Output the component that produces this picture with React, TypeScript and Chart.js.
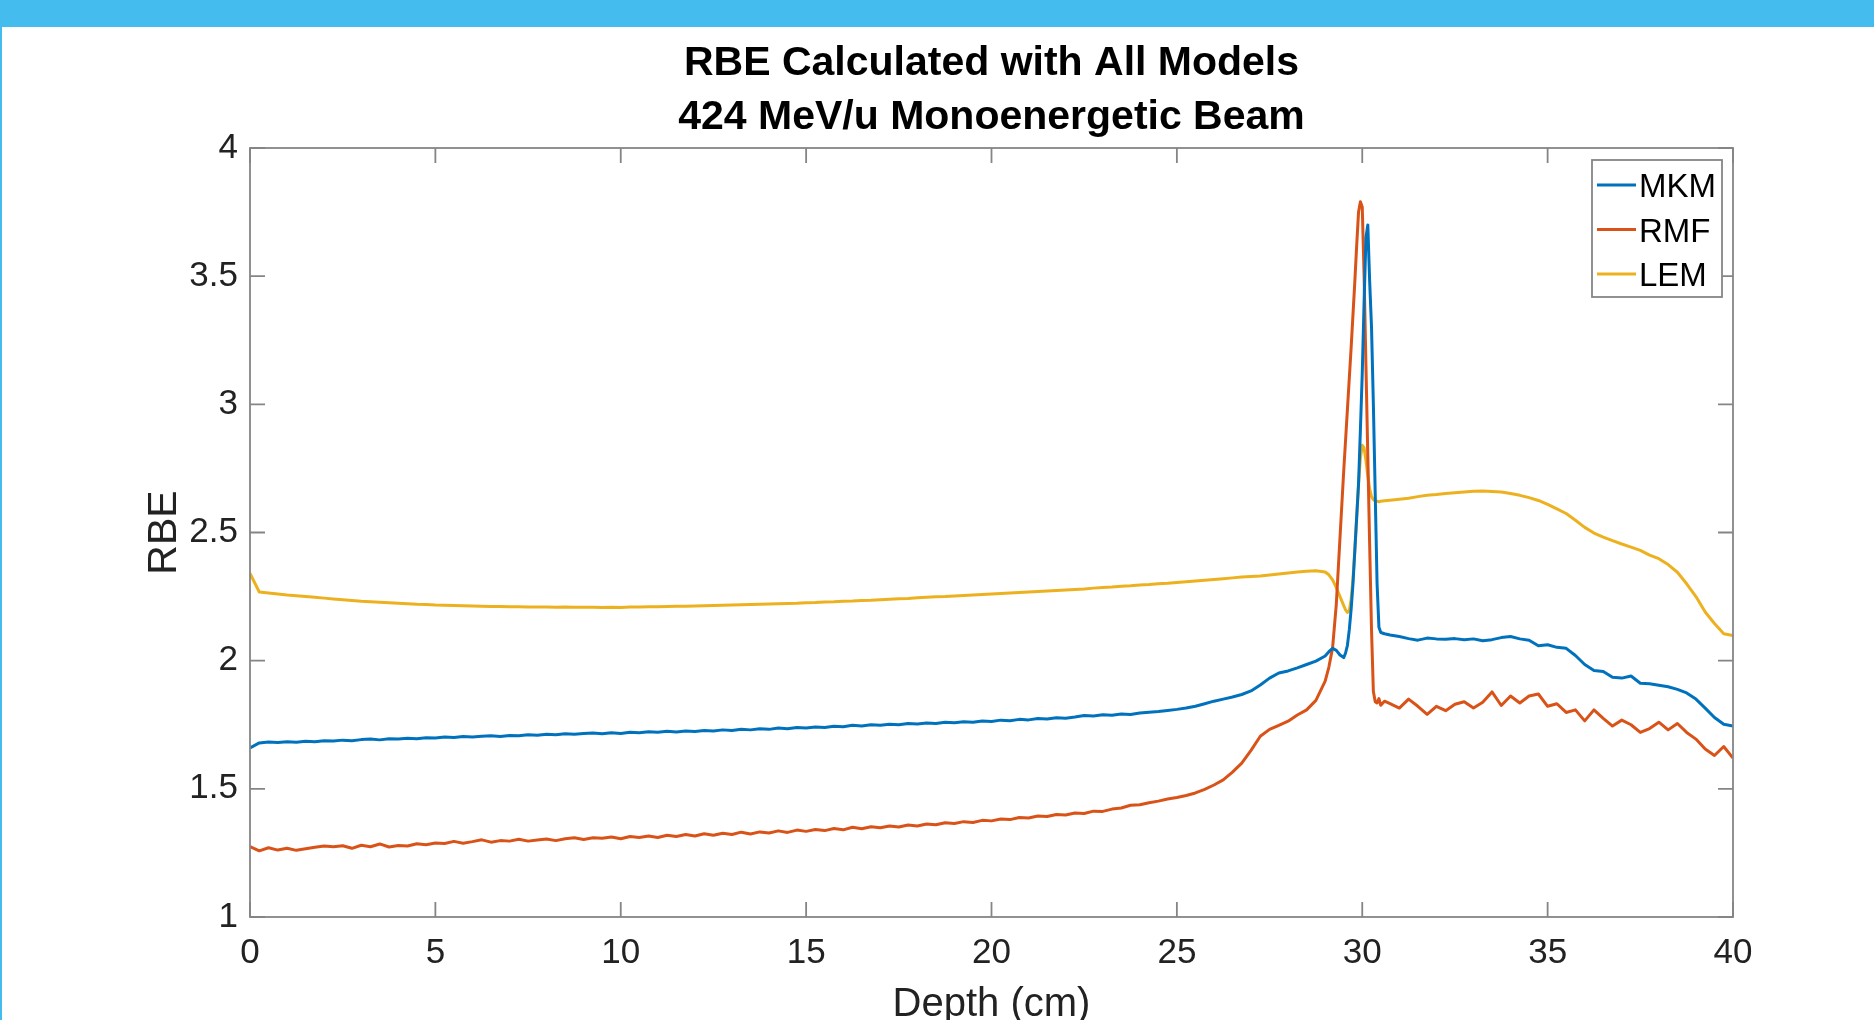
import React, { useEffect, useRef } from "react";
import { Chart, registerables } from "chart.js";

Chart.register(...registerables);

// ---------- data (depth in cm, RBE) ----------
const depthA = [
  0, 0.25, 0.5, 0.75, 1, 1.25, 1.5, 1.75, 2, 2.25, 2.5, 2.75, 3, 3.25, 3.5, 3.75, 4, 4.25, 4.5, 4.75,
  5, 5.25, 5.5, 5.75, 6, 6.25, 6.5, 6.75, 7, 7.25, 7.5, 7.75, 8, 8.25, 8.5, 8.75, 9, 9.25, 9.5, 9.75,
  10, 10.25, 10.5, 10.75, 11, 11.25, 11.5, 11.75, 12, 12.25, 12.5, 12.75, 13, 13.25, 13.5, 13.75, 14, 14.25, 14.5, 14.75,
  15, 15.25, 15.5, 15.75, 16, 16.25, 16.5, 16.75, 17, 17.25, 17.5, 17.75, 18, 18.25, 18.5, 18.75, 19, 19.25, 19.5, 19.75,
  20, 20.25, 20.5, 20.75, 21, 21.25, 21.5, 21.75, 22, 22.25, 22.5, 22.75, 23, 23.25, 23.5, 23.75, 24, 24.25, 24.5, 24.75,
  25, 25.25, 25.5, 25.75, 26, 26.25, 26.5, 26.75, 27, 27.25, 27.5, 27.75, 28, 28.25, 28.5, 28.75, 29,
];
const depthB = [
  29.1, 29.2, 29.3, 29.4, 29.5, 29.55, 29.6, 29.65, 29.7, 29.75, 29.8, 29.85, 29.9, 29.95, 30, 30.05,
  30.1, 30.15, 30.2, 30.25, 30.3, 30.35, 30.4, 30.45, 30.5, 30.6,
];
const depthC = [
  30.75, 31, 31.25, 31.5, 31.75, 32, 32.25, 32.5, 32.75, 33, 33.25, 33.5, 33.75, 34, 34.25, 34.5, 34.75,
  35, 35.25, 35.5, 35.75, 36, 36.25, 36.5, 36.75, 37, 37.25, 37.5, 37.75, 38, 38.25, 38.5, 38.75, 39, 39.25, 39.5, 39.75, 40,
];

const mkmA = [
  1.660, 1.679, 1.683, 1.681, 1.684, 1.682, 1.686, 1.684, 1.688, 1.687, 1.690, 1.688, 1.692, 1.694, 1.691, 1.695, 1.694, 1.697, 1.695, 1.699,
  1.698, 1.702, 1.700, 1.704, 1.702, 1.705, 1.707, 1.704, 1.708, 1.707, 1.711, 1.709, 1.713, 1.711, 1.715, 1.713, 1.716, 1.718, 1.715, 1.719,
  1.716, 1.721, 1.719, 1.723, 1.721, 1.725, 1.722, 1.726, 1.724, 1.728, 1.726, 1.730, 1.728, 1.732, 1.730, 1.734, 1.732, 1.737, 1.734, 1.739,
  1.737, 1.741, 1.739, 1.744, 1.742, 1.748, 1.745, 1.750, 1.748, 1.752, 1.750, 1.755, 1.753, 1.757, 1.755, 1.760, 1.758, 1.762, 1.760, 1.765,
  1.763, 1.768, 1.766, 1.771, 1.769, 1.774, 1.772, 1.777, 1.775, 1.780, 1.786, 1.784, 1.789, 1.787, 1.792, 1.790, 1.796, 1.799, 1.802, 1.806,
  1.810, 1.815, 1.822, 1.832, 1.842, 1.850, 1.858, 1.868, 1.882, 1.905, 1.932, 1.952, 1.960, 1.972, 1.985, 1.998, 2.018,
];
const mkmB = [
  2.035, 2.048, 2.040, 2.022, 2.012, 2.030, 2.060, 2.120, 2.200, 2.300, 2.430, 2.560, 2.690, 2.900, 3.120, 3.400,
  3.650, 3.700, 3.480, 3.300, 3.000, 2.650, 2.300, 2.130, 2.110, 2.105,
];
const mkmC = [
  2.100, 2.094, 2.086, 2.080, 2.088, 2.085, 2.084, 2.086, 2.082, 2.085, 2.078, 2.082, 2.090, 2.094, 2.085, 2.080, 2.058,
  2.062, 2.052, 2.048, 2.020, 1.985, 1.962, 1.958, 1.935, 1.932, 1.940, 1.912, 1.910, 1.904, 1.898, 1.888, 1.874, 1.850, 1.815, 1.778, 1.752, 1.745,
];

const rmfA = [
  1.275, 1.258, 1.270, 1.261, 1.268, 1.260, 1.266, 1.272, 1.277, 1.274, 1.278, 1.268, 1.280, 1.274, 1.285, 1.273, 1.279, 1.277, 1.286, 1.282,
  1.289, 1.287, 1.295, 1.288, 1.294, 1.301, 1.292, 1.298, 1.296, 1.303, 1.296, 1.300, 1.304, 1.298, 1.305, 1.309, 1.302, 1.309, 1.307, 1.312,
  1.305, 1.314, 1.310, 1.316, 1.310, 1.319, 1.314, 1.322, 1.316, 1.325, 1.319, 1.327, 1.322, 1.331, 1.324, 1.332, 1.328, 1.336, 1.330, 1.339,
  1.334, 1.341, 1.337, 1.345, 1.340, 1.350, 1.344, 1.352, 1.348, 1.355, 1.351, 1.359, 1.355, 1.363, 1.360, 1.368, 1.365, 1.372, 1.369, 1.377,
  1.375, 1.382, 1.380, 1.388, 1.386, 1.394, 1.392, 1.400, 1.398, 1.406, 1.404, 1.413, 1.412, 1.421, 1.425, 1.436, 1.438, 1.446, 1.452, 1.460,
  1.466, 1.474, 1.484, 1.498, 1.515, 1.535, 1.565, 1.600, 1.650, 1.705, 1.732, 1.748, 1.764, 1.788, 1.808, 1.845, 1.920,
];
const rmfB = [
  1.975, 2.050, 2.220, 2.480, 2.740, 2.860, 2.980, 3.100, 3.220, 3.350, 3.480, 3.620, 3.750, 3.790, 3.770, 3.500,
  3.150, 2.800, 2.450, 2.120, 1.880, 1.840, 1.835, 1.852, 1.826, 1.842,
];
const rmfC = [
  1.832, 1.815, 1.850, 1.822, 1.790, 1.822, 1.805, 1.830, 1.840, 1.815, 1.838, 1.878, 1.825, 1.862, 1.835, 1.862, 1.870,
  1.822, 1.832, 1.798, 1.808, 1.765, 1.808, 1.775, 1.745, 1.768, 1.750, 1.720, 1.735, 1.760, 1.730, 1.755, 1.720, 1.694, 1.655, 1.630, 1.665, 1.620,
];

const lemA = [
  2.340, 2.268, 2.264, 2.260, 2.256, 2.253, 2.250, 2.247, 2.244, 2.241, 2.238, 2.235, 2.232, 2.230, 2.228, 2.226, 2.224, 2.222, 2.220, 2.219,
  2.217, 2.216, 2.215, 2.214, 2.213, 2.212, 2.211, 2.211, 2.210, 2.210, 2.209, 2.209, 2.209, 2.208, 2.209, 2.208, 2.208, 2.208, 2.207, 2.208,
  2.207, 2.209, 2.209, 2.210, 2.210, 2.211, 2.212, 2.212, 2.213, 2.214, 2.215, 2.216, 2.217, 2.218, 2.219, 2.220, 2.221, 2.222, 2.223, 2.224,
  2.226, 2.227, 2.229, 2.230, 2.232, 2.233, 2.235, 2.236, 2.238, 2.240, 2.242, 2.243, 2.245, 2.247, 2.249, 2.250, 2.252, 2.254, 2.256, 2.258,
  2.260, 2.262, 2.264, 2.266, 2.268, 2.270, 2.272, 2.274, 2.276, 2.278, 2.280, 2.283, 2.285, 2.287, 2.290, 2.292, 2.295, 2.297, 2.300, 2.302,
  2.305, 2.308, 2.311, 2.314, 2.317, 2.320, 2.323, 2.326, 2.328, 2.330, 2.334, 2.338, 2.342, 2.346, 2.349, 2.351, 2.346,
];
const lemB = [
  2.335, 2.315, 2.285, 2.250, 2.215, 2.198, 2.188, 2.195, 2.240, 2.320, 2.430, 2.560, 2.690, 2.790, 2.840, 2.830,
  2.780, 2.720, 2.670, 2.640, 2.628, 2.624, 2.622, 2.620, 2.622, 2.624,
];
const lemC = [
  2.626, 2.630, 2.634, 2.640, 2.645, 2.648, 2.652, 2.655, 2.658, 2.661, 2.662, 2.660, 2.658, 2.652, 2.645, 2.636, 2.625,
  2.610, 2.592, 2.574, 2.548, 2.520, 2.498, 2.482, 2.468, 2.455, 2.443, 2.430, 2.412, 2.398, 2.375, 2.345, 2.300, 2.250, 2.190, 2.145, 2.105, 2.098,
];

const seriesNames = ["MKM", "RMF", "LEM"];
const seriesColors = ["#0072BD", "#D95319", "#EDB120"];

const xTickValues = [0, 5, 10, 15, 20, 25, 30, 35, 40];
const xTickLabels = ["0", "5", "10", "15", "20", "25", "30", "35", "40"];
const yTickValues = [1, 1.5, 2, 2.5, 3, 3.5, 4];
const yTickLabels = ["1", "1.5", "2", "2.5", "3", "3.5", "4"];

const titleLines = ["RBE Calculated with All Models", "424 MeV/u Monoenergetic Beam"];
const xAxisTitle = "Depth (cm)";
const yAxisTitle = "RBE";

// ---------- styling ----------
const FONT = "'Liberation Sans', Arial, Helvetica, sans-serif";
const W = 1874;
const H = 1020;
const AXIS_COLOR = "#858585";
const TEXT_COLOR = "#222222";
const TICK_LEN = 15;

function toPoints(xs: number[], ys: number[]) {
  return xs.map((x, i) => ({ x, y: ys[i] }));
}

const decorPlugin = {
  id: "decor",
  afterDraw(chart: any) {
    const { ctx, chartArea: a, scales } = chart;
    const xs = scales.x;
    const ys = scales.y;
    ctx.save();

    // axes box and inward ticks (box on)
    ctx.strokeStyle = AXIS_COLOR;
    ctx.lineWidth = 1.8;
    ctx.strokeRect(a.left, a.top, a.right - a.left, a.bottom - a.top);
    ctx.beginPath();
    for (const v of xTickValues) {
      const px = xs.getPixelForValue(v);
      ctx.moveTo(px, a.bottom);
      ctx.lineTo(px, a.bottom - TICK_LEN);
      ctx.moveTo(px, a.top);
      ctx.lineTo(px, a.top + TICK_LEN);
    }
    for (const v of yTickValues) {
      const py = ys.getPixelForValue(v);
      ctx.moveTo(a.left, py);
      ctx.lineTo(a.left + TICK_LEN, py);
      ctx.moveTo(a.right, py);
      ctx.lineTo(a.right - TICK_LEN, py);
    }
    ctx.stroke();

    // title
    const cx = (a.left + a.right) / 2;
    ctx.fillStyle = "#000";
    ctx.textAlign = "center";
    ctx.textBaseline = "alphabetic";
    ctx.font = `bold 41px ${FONT}`;
    ctx.fillText(titleLines[0], cx, 75);
    ctx.fillText(titleLines[1], cx, 129);

    // axis titles
    ctx.fillStyle = TEXT_COLOR;
    ctx.font = `40px ${FONT}`;
    ctx.fillText(xAxisTitle, cx, 1016);
    ctx.save();
    ctx.translate(176, (a.top + a.bottom) / 2);
    ctx.rotate(-Math.PI / 2);
    ctx.font = `41px ${FONT}`;
    ctx.fillText(yAxisTitle, 0, 0);
    ctx.restore();

    // legend (inside, north-east)
    const lx = 1592, ly = 160, lw = 130, lh = 137;
    ctx.fillStyle = "#fff";
    ctx.fillRect(lx, ly, lw, lh);
    ctx.strokeStyle = AXIS_COLOR;
    ctx.lineWidth = 1.8;
    ctx.strokeRect(lx, ly, lw, lh);
    ctx.font = `33px ${FONT}`;
    ctx.textAlign = "left";
    const rowsY = [185, 229.5, 274];
    seriesNames.forEach((name, i) => {
      ctx.strokeStyle = seriesColors[i];
      ctx.lineWidth = 3;
      ctx.beginPath();
      ctx.moveTo(lx + 5, rowsY[i]);
      ctx.lineTo(lx + 44, rowsY[i]);
      ctx.stroke();
      ctx.fillStyle = "#000";
      ctx.fillText(name, lx + 47, rowsY[i] + 12);
    });

    ctx.restore();
  },
};

export default function App() {
  const canvasRef = useRef<HTMLCanvasElement | null>(null);

  useEffect(() => {
    const canvas = canvasRef.current;
    if (!canvas) return;
    const depth = [...depthA, ...depthB, ...depthC];
    const mkm = [...mkmA, ...mkmB, ...mkmC];
    const rmf = [...rmfA, ...rmfB, ...rmfC];
    const lem = [...lemA, ...lemB, ...lemC];
    const values = [mkm, rmf, lem];

    const chart = new Chart(canvas, {
      type: "line",
      data: {
        datasets: seriesNames.map((name, i) => ({
          label: name,
          data: toPoints(depth, values[i]),
          borderColor: seriesColors[i],
          backgroundColor: seriesColors[i],
          borderWidth: 3,
          pointRadius: 0,
          tension: 0,
          fill: false,
          borderJoinStyle: "round" as const,
        })),
      },
      options: {
        animation: false,
        responsive: false,
        devicePixelRatio: 1,
        layout: { padding: { top: 148, right: 141, left: 0, bottom: 0 } },
        plugins: {
          legend: { display: false },
          title: { display: false },
          tooltip: { enabled: false },
        },
        scales: {
          x: {
            type: "linear",
            min: 0,
            max: 40,
            afterFit: (s: any) => {
              s.height = H - 917;
            },
            afterBuildTicks: (s: any) => {
              s.ticks = xTickValues.map((v) => ({ value: v }));
            },
            ticks: {
              color: TEXT_COLOR,
              font: { family: FONT, size: 35 },
              padding: 15,
              maxRotation: 0,
              autoSkip: false,
              callback: (v: any) => {
                const i = xTickValues.indexOf(Number(v));
                return i >= 0 ? xTickLabels[i] : "";
              },
            },
            grid: { display: false, drawTicks: false },
            border: { display: false },
          },
          y: {
            type: "linear",
            min: 1,
            max: 4,
            afterFit: (s: any) => {
              s.width = 250;
            },
            afterBuildTicks: (s: any) => {
              s.ticks = yTickValues.map((v) => ({ value: v }));
            },
            ticks: {
              color: TEXT_COLOR,
              font: { family: FONT, size: 35 },
              padding: 12,
              autoSkip: false,
              callback: (v: any) => {
                const i = yTickValues.indexOf(Number(v));
                return i >= 0 ? yTickLabels[i] : "";
              },
            },
            grid: { display: false, drawTicks: false },
            border: { display: false },
          },
        },
      },
      plugins: [decorPlugin],
    });
    return () => chart.destroy();
  }, []);

  return (
    <div style={{ position: "fixed", left: 0, top: 0, width: W, height: H, background: "#fff", overflow: "hidden" }}>
      <canvas ref={canvasRef} width={W} height={H} style={{ position: "absolute", left: 0, top: 0, width: W, height: H }} />
      <div style={{ position: "absolute", left: 0, top: 0, width: W, height: 27, background: "#44BDEE" }} />
      <div style={{ position: "absolute", left: 0, top: 27, width: 2, height: H - 27, background: "#44BDEE" }} />
    </div>
  );
}
